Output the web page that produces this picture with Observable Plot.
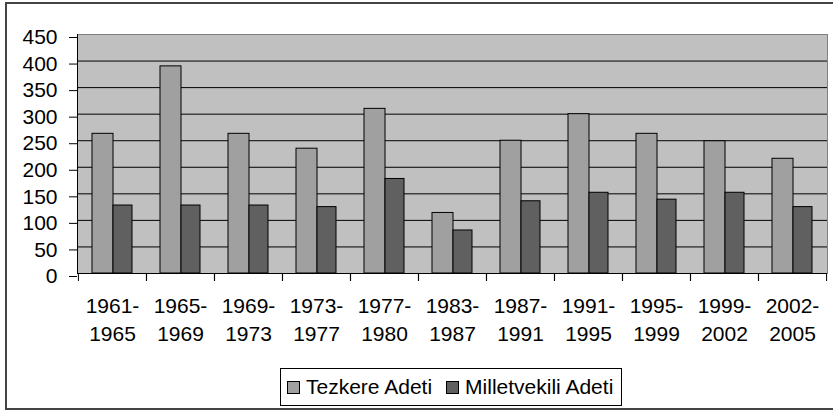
<!DOCTYPE html>
<html>
<head>
<meta charset="utf-8">
<script src="https://cdn.jsdelivr.net/npm/d3@7"></script>
<script src="https://cdn.jsdelivr.net/npm/@observablehq/plot@0.6"></script>
<style>
  html, body { margin: 0; padding: 0; }
  body { width: 833px; height: 412px; overflow: hidden; background: #fff; position: relative;
         font-family: "Liberation Sans", Arial, sans-serif; }
  #border { position: absolute; left: 5px; top: 2px; width: 840px; height: 408px;
            border: 2px solid #444; box-sizing: border-box; }
  #chart { position: absolute; left: 0; top: 0; }
  #legend { position: absolute; left: 280px; top: 368px; width: 342px; height: 38px;
            border: 1px solid #000; box-sizing: border-box; background: #fff;
            display: flex; align-items: center; justify-content: flex-start; gap: 14px;
            padding-left: 6px; font-size: 21px; color: #000; white-space: nowrap; }
  .item { display: flex; align-items: center; gap: 6px; }
  .sw { width: 13px; height: 13px; border: 1px solid #000; box-sizing: border-box; display: inline-block; }
</style>
</head>
<body>
<div id="border"></div>
<div id="chart"></div>
<div id="legend"></div>
<script>
const periods = ["1961-1965","1965-1969","1969-1973","1973-1977","1977-1980","1983-1987","1987-1991","1991-1995","1995-1999","1999-2002","2002-2005"];
const tezkere = [263, 390, 263, 235, 310, 114, 250, 300, 263, 249, 216];
const milletvekili = [128, 128, 128, 125, 178, 81, 136, 152, 139, 152, 125];
const yTicks = [0, 50, 100, 150, 200, 250, 300, 350, 400, 450];
const seriesNames = ["Tezkere Adeti", "Milletvekili Adeti"];
const seriesColors = ["#a0a0a0", "#606060"];

const tezData = periods.map((p, i) => ({period: p, value: tezkere[i]}));
const milData = periods.map((p, i) => ({period: p, value: milletvekili[i]}));

const W = 833, H = 362, mL = 77, mR = 6, mT = 34, mB = 89;
const bw = (W - mL - mR) / periods.length;

const chart = Plot.plot({
  width: W, height: H,
  marginTop: mT, marginLeft: mL, marginRight: mR, marginBottom: mB,
  x: {domain: periods, padding: 0, axis: null},
  y: {domain: [0, 450], axis: null},
  style: {fontFamily: '"Liberation Sans", Arial, sans-serif', fontSize: "21px", color: "#000", background: "transparent"},
  marks: [
    Plot.frame({fill: "#c0c0c0", stroke: "#808080"}),
    Plot.gridY(yTicks.filter(v => v > 0 && v < 450), {stroke: "#000", strokeOpacity: 1}),
    Plot.barY(tezData, {x: "period", y: "value", fill: seriesColors[0], stroke: "#000", insetLeft: 14, insetRight: 33}),
    Plot.barY(milData, {x: "period", y: "value", fill: seriesColors[1], stroke: "#000", insetLeft: 35, insetRight: 14}),
    Plot.ruleY([0], {stroke: "#000"}),
    Plot.frame({anchor: "left", stroke: "#000"}),
    Plot.axisY({ticks: yTicks, tickSize: 8, tickPadding: 12, dy: 3, label: null, fontSize: 21}),
    Plot.axisX({tickSize: 0, tickPadding: 20, label: null, fontSize: 21, lineHeight: 1.33,
                tickFormat: d => d.replace("-", "-\n")}),
    Plot.axisX({tickSize: 8, label: null, tickFormat: () => "", dx: -bw / 2}),
    Plot.axisX({tickSize: 8, label: null, tickFormat: () => "", dx: bw / 2})
  ]
});
document.getElementById("chart").appendChild(chart);

const legend = document.getElementById("legend");
seriesNames.forEach((name, i) => {
  const item = document.createElement("span");
  item.className = "item";
  const sw = document.createElement("span");
  sw.className = "sw";
  sw.style.background = seriesColors[i];
  const t = document.createElement("span");
  t.textContent = name;
  item.appendChild(sw);
  item.appendChild(t);
  legend.appendChild(item);
});
</script>
</body>
</html>
